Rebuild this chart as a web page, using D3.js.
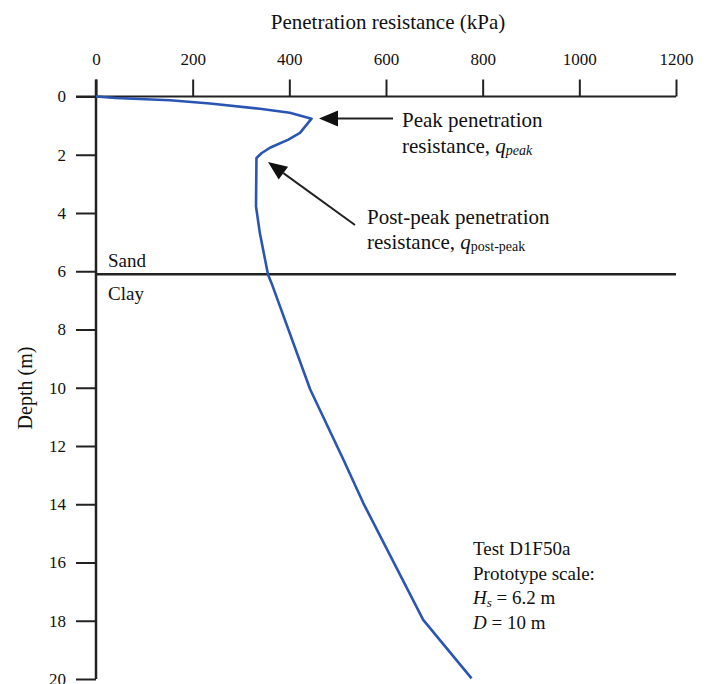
<!DOCTYPE html>
<html><head><meta charset="utf-8">
<script src="https://cdn.jsdelivr.net/npm/d3@7/dist/d3.min.js"></script>
<style>body{margin:0;background:#fff}svg{display:block}text{font-family:"Liberation Serif","Times New Roman",serif;fill:#111}</style>
</head><body><svg id="c" width="710" height="684" font-family="Liberation Serif, serif"></svg>
<script>
const xTicks = [0,200,400,600,800,1000,1200];
const yTicks = [0,2,4,6,8,10,12,14,16,18,20];
const depth = [0,0.05,0.13,0.24,0.42,0.56,0.76,1.25,1.48,1.76,1.94,2.11,3.77,4.69,6.12,6.4,10.05,12.47,13.96,17.97,19.98];
const resistance = [0,40,153,236,339,401,446,422,398,360,343,332,331,339,356,363,443,512,553,677,777];
const layerDepth = 6.1;

const svg = d3.select("#c");
const x = d3.scaleLinear().domain([0,1200]).range([96,676]);
const y = d3.scaleLinear().domain([0,20]).range([96.5,679]);
const ink = "#222";
const FF = "Liberation Serif, serif";

// top axis
const xa = svg.append("g").attr("transform",`translate(0,${y(0)})`)
  .call(d3.axisTop(x).tickValues(xTicks).tickSize(17).tickPadding(15).tickFormat(d3.format("d")));
xa.attr("font-family",FF).attr("font-size",17);
xa.select(".domain").remove();
xa.selectAll("line").attr("stroke",ink).attr("stroke-width",2);
xa.selectAll("text").attr("fill","#111");
svg.append("line").attr("x1",76).attr("x2",x(1200)).attr("y1",y(0)).attr("y2",y(0)).attr("stroke",ink).attr("stroke-width",2);

// left axis
const ya = svg.append("g").attr("transform",`translate(${x(0)},0)`)
  .call(d3.axisLeft(y).tickValues(yTicks).tickSize(20).tickPadding(10));
ya.attr("font-family",FF).attr("font-size",17);
ya.select(".domain").remove();
ya.selectAll("line").attr("stroke",ink).attr("stroke-width",2);
ya.selectAll("text").attr("fill","#111");
svg.append("line").attr("x1",x(0)).attr("x2",x(0)).attr("y1",y(0)-17).attr("y2",y(20)).attr("stroke",ink).attr("stroke-width",2.5);

// titles
svg.append("text").attr("x",388).attr("y",29).attr("text-anchor","middle").style("font-size","21px").text("Penetration resistance (kPa)");
svg.append("text").attr("transform","translate(32,388) rotate(-90)").attr("text-anchor","middle").style("font-size","20px").text("Depth (m)");

// layer line
svg.append("line").attr("x1",x(0)).attr("x2",x(1200)).attr("y1",y(layerDepth)).attr("y2",y(layerDepth)).attr("stroke",ink).attr("stroke-width",2.5);
svg.append("text").attr("x",108).attr("y",267).style("font-size","19px").text("Sand");
svg.append("text").attr("x",108).attr("y",300).style("font-size","19px").text("Clay");

// curve
const pts = depth.map((d,i)=>[resistance[i],d]);
svg.append("path").datum(pts).attr("fill","none").attr("stroke","#2b55b3").attr("stroke-width",2.6)
  .attr("stroke-linejoin","round").attr("d",d3.line().x(d=>x(d[0])).y(d=>y(d[1])));

// arrows
function arrow(x1,y1,x2,y2){
  const ang = Math.atan2(y2-y1,x2-x1), L=19, W=8;
  const bx = x2 - L*Math.cos(ang), by = y2 - L*Math.sin(ang);
  svg.append("line").attr("x1",x1).attr("y1",y1).attr("x2",bx).attr("y2",by).attr("stroke",ink).attr("stroke-width",2);
  const px = -Math.sin(ang)*W, py = Math.cos(ang)*W;
  svg.append("path").attr("d",`M${x2},${y2}L${bx+px},${by+py}L${bx-px},${by-py}Z`).attr("fill","#111");
}
arrow(393,118.5,319,118.5);
arrow(355,225,268,162);

function label(xp,yp,lines,fs,gap){
  lines.forEach((ln,i)=>{
    const t = svg.append("text").attr("x",xp).attr("y",yp+i*gap).style("font-size",fs+"px");
    ln.forEach(seg=>{
      const s = t.append("tspan").text(seg.t);
      if(seg.i) s.style("font-style","italic");
      if(seg.s) s.style("font-size",Math.round(fs*0.68)+"px");
      if(seg.dy) s.attr("dy",seg.dy);
    });
  });
}
label(402,127,[[{t:"Peak penetration"}],[{t:"resistance, "},{t:"q",i:true},{t:"peak",i:true,s:true,dy:2}]],21,26);
label(367,224,[[{t:"Post-peak penetration"}],[{t:"resistance, "},{t:"q",i:true},{t:"post-peak",s:true,dy:2}]],21,24.5);

label(473,555,[[{t:"Test D1F50a"}],[{t:"Prototype scale:"}],[{t:"H",i:true},{t:"s",i:true,s:true,dy:3},{t:" = 6.2 m",dy:-3}],[{t:"D",i:true},{t:" = 10 m"}]],19,24.5);
</script></body></html>
